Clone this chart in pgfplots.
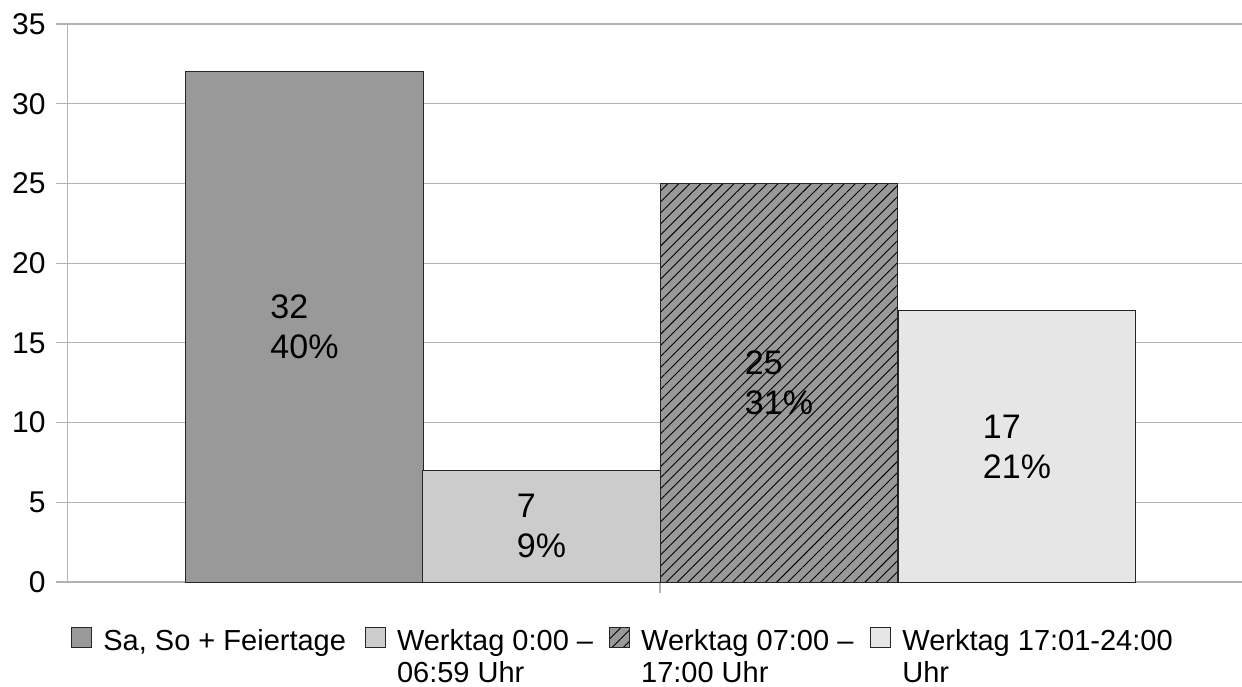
\documentclass[border=0pt]{standalone}
\usepackage{fontspec}
\setmainfont{Liberation Sans}
\usepackage{pgfplots}
\pgfplotsset{compat=1.18}
\usetikzlibrary{patterns.meta}
\definecolor{gridgrey}{HTML}{B3B3B3}
\definecolor{barA}{HTML}{999999}
\definecolor{barB}{HTML}{CCCCCC}
\definecolor{barC}{HTML}{999999}
\definecolor{barD}{HTML}{E6E6E6}
\newcommand{\twolines}[2]{\begin{tabular}[t]{@{}l@{}}#1\\#2\end{tabular}}
\begin{document}
\begin{tikzpicture}
\begin{axis}[
  scale only axis,
  width=587.5pt, height=279pt,
  xmin=67, xmax=1242,
  ymin=0, ymax=35,
  ytick={0,5,...,35},
  /pgf/number format/assume math mode=true,
  yticklabel style={font=\fontsize{15}{17}\selectfont, inner sep=0pt, xshift=-5pt},
  xtick={660}, xticklabels={},
  axis x line=bottom, axis y line=left,
  axis line style={gridgrey, -},
  ymajorgrids,
  grid style={gridgrey, line width=0.6pt},
  tick align=outside,
  major tick length=5.5pt,
  tick style={gridgrey, line width=0.6pt},
  ybar, bar width=237.5, bar shift=0,
  every axis plot/.append style={draw=black!85, line width=0.5pt},
  legend columns=4,
  legend style={
    at={(0.0,-0.074)}, anchor=north west, xshift=2pt,
    draw=none, fill=none, inner sep=0pt,
    font=\fontsize{14.5}{16}\selectfont,
    cells={anchor=base west},
    /tikz/every odd column/.append style={column sep=3.5pt},
    /tikz/column 2/.append style={column sep=7.5pt},
    /tikz/column 4/.append style={column sep=6pt},
    /tikz/column 6/.append style={column sep=6.5pt},
  },
  legend image code/.code={
    \draw[#1, line width=0.5pt] (0pt,1.5pt) rectangle (10pt,11.5pt);
  },
]
\addplot[fill=barA] coordinates {(304.5,32)};
\addlegendentry{Sa, So + Feiertage}
\addplot[fill=barB] coordinates {(541.5,7)};
\addlegendentry{\twolines{Werktag 0:00 –}{06:59 Uhr}}
\addplot[fill=barC, postaction={pattern={Lines[angle=45, distance=3.9pt, line width=0.45pt]}}] coordinates {(779,25)};
\addlegendentry{\twolines{Werktag 07:00 –}{17:00 Uhr}}
\addplot[fill=barD] coordinates {(1017,17)};
\addlegendentry{\twolines{Werktag 17:01-24:00}{Uhr}}

\begin{scope}[every node/.style={align=left, inner sep=0pt, font=\fontsize{17}{20}\selectfont}]
\node at (axis cs:304.5,16) {32\\40\%};
\node at (axis cs:541.5,3.5) {7\\9\%};
\node at (axis cs:779,12.5) {25\\31\%};
\node at (axis cs:1017,8.5) {17\\21\%};
\end{scope}
\end{axis}
\pgfresetboundingbox
\path[use as bounding box] (-33.5pt,-52pt) rectangle (587.5pt,291pt);
\end{tikzpicture}
\end{document}
